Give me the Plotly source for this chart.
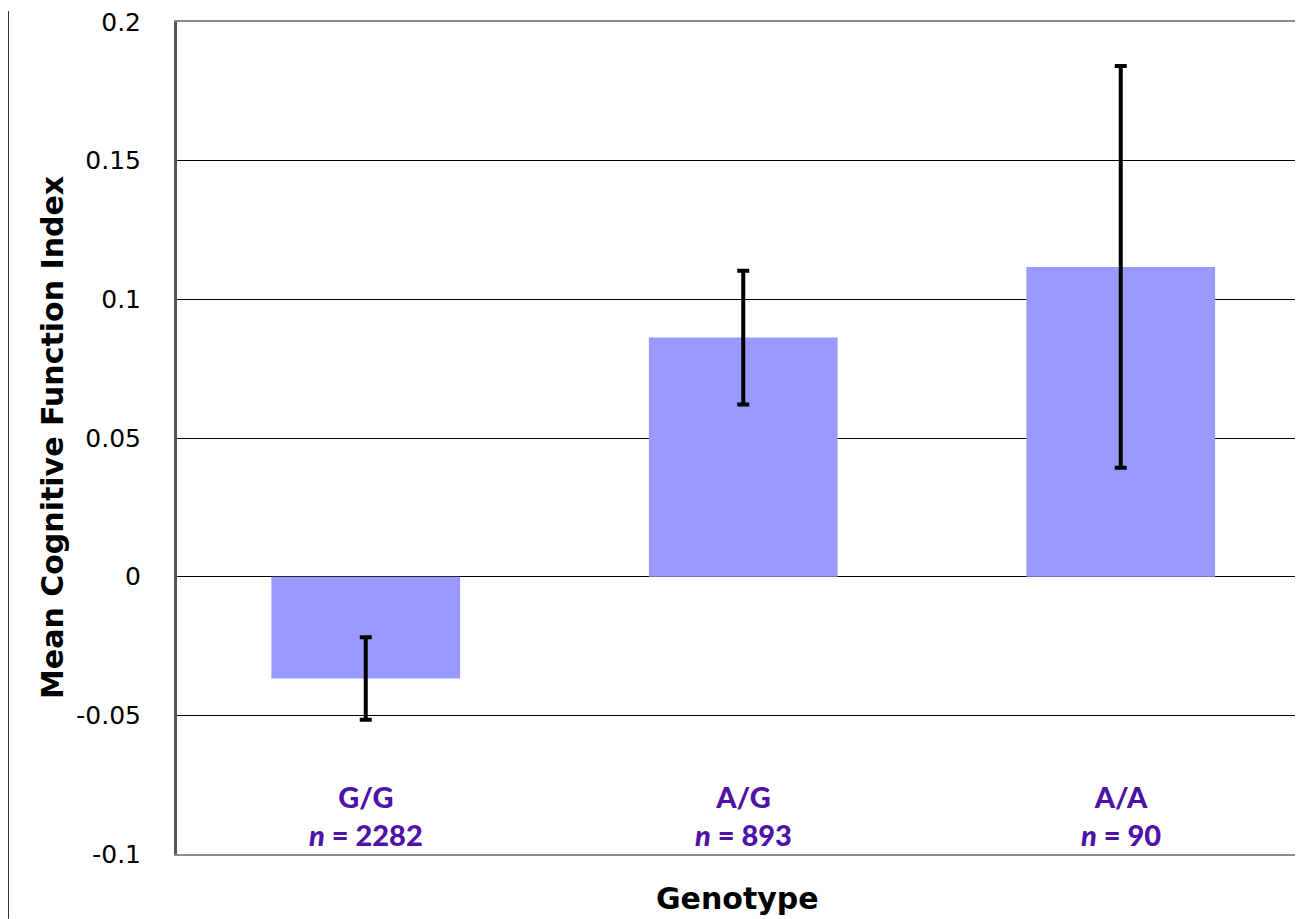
import plotly.graph_objects as go

categories = ["G/G", "A/G", "A/A"]
n_values = [2282, 893, 90]
means = [-0.0367, 0.0862, 0.1117]
errors = [0.0149, 0.0241, 0.0724]
y_ticks = [-0.1, -0.05, 0, 0.05, 0.1, 0.15, 0.2]
y_tick_labels = ["-0.1", "-0.05", "0", "0.05", "0.1", "0.15", "0.2"]

# page body has an 8px margin; compensate so the picture lines up
OFF = 8
W, H = 1303 - OFF, 919 - OFF
ML, MT, MB, MR = 177 - OFF, 19 - OFF, 65, 0
plot_w = W - ML - MR
plot_h = H - MT - MB

fig = go.Figure()
fig.add_trace(go.Bar(
    x=list(range(len(categories))),
    y=means,
    width=0.5,
    marker=dict(color="#9999FF", line=dict(width=0)),
    error_y=dict(type="data", array=errors, visible=True,
                 color="black", thickness=4, width=6),
    hoverinfo="skip",
))

annotations = []
for i, (c, n) in enumerate(zip(categories, n_values)):
    annotations.append(dict(
        x=i, xref="x", y=-0.086, yref="y",
        text=f"{c}<br><i>n</i> = {n}",
        showarrow=False, xanchor="center", yanchor="middle",
        font=dict(family="Lato", size=29, color="#4F12A6", weight=900),
    ))

annotations.append(dict(
    x=(52 - 177) / plot_w, xref="paper", y=0.5, yref="paper",
    text="<b>Mean Cognitive Function Index</b>", textangle=-90,
    showarrow=False, xanchor="center", yanchor="middle",
    font=dict(family="DejaVu Sans", size=30, color="black"),
))
annotations.append(dict(
    x=(737 - 177) / plot_w, xref="paper", y=(854 - 899) / plot_h, yref="paper",
    text="<b>Genotype</b>",
    showarrow=False, xanchor="center", yanchor="middle",
    font=dict(family="DejaVu Sans", size=30, color="black"),
))

frame_x = (8.5 - 177) / plot_w
shapes = [dict(
    type="line", xref="paper", yref="paper",
    x0=frame_x, x1=frame_x,
    y0=-MB / plot_h, y1=1 + MT / plot_h,
    line=dict(color="#333333", width=1),
)]

fig.update_layout(
    width=W, height=H,
    margin=dict(l=ML, r=MR, t=MT, b=MB),
    paper_bgcolor="white", plot_bgcolor="white",
    showlegend=False,
    annotations=annotations,
    shapes=shapes,
    xaxis=dict(
        range=[-0.5, plot_w / 377.5 - 0.5],
        showticklabels=False, showgrid=False, zeroline=False,
        showline=True, mirror=True, linecolor="#8c8c8c", linewidth=2,
        ticks="",
    ),
    yaxis=dict(
        range=[-0.1, 0.2],
        tickvals=y_ticks, ticktext=y_tick_labels,
        tickfont=dict(family="DejaVu Sans", size=25, color="black"),
        showgrid=True, gridcolor="black", gridwidth=1,
        zeroline=True, zerolinecolor="black", zerolinewidth=1,
        showline=True, linecolor="#555555", linewidth=3,
        ticks="", ticklabelstandoff=28, ticklabeloverflow="allow",
    ),
)

fig.write_html("out.html")
